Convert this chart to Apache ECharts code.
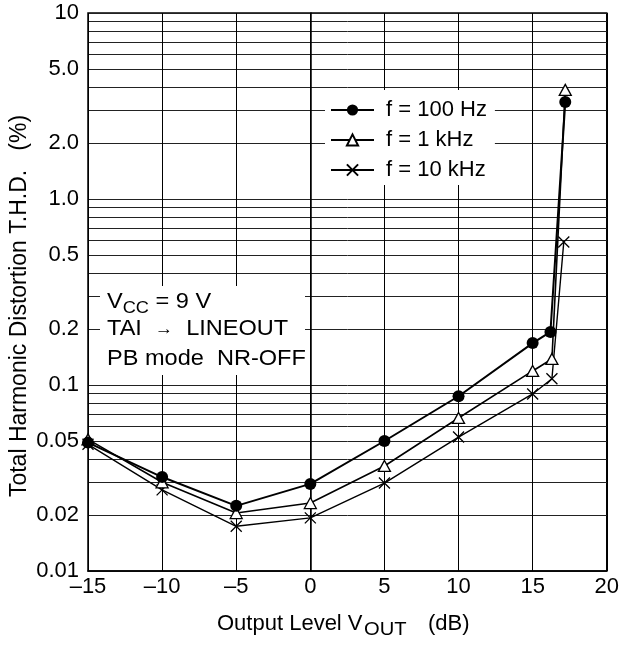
<!DOCTYPE html>
<html>
<head>
<meta charset="utf-8">
<script src="https://cdn.jsdelivr.net/npm/echarts@6/dist/echarts.min.js"></script>
<style>html,body{margin:0;padding:0;background:#fff}#c{width:622px;height:646px}</style>
</head>
<body>
<div id="c"></div>
<script>
// ---- data ----
const seriesNames = ['f = 100 Hz', 'f = 1 kHz', 'f = 10 kHz'];
const x100 = [-15, -10, -5, 0, 5, 10, 15, 16.2, 17.2];
const y100 = [0.049, 0.032, 0.0224, 0.0294, 0.050, 0.087, 0.168, 0.193, 3.32];
const x1k = [-15, -10, -5, 0, 5, 10, 15, 16.3, 17.2];
const y1k = [0.051, 0.030, 0.0205, 0.0232, 0.0367, 0.0665, 0.119, 0.138, 3.86];
const x10k = [-15, -10, -5, 0, 5, 10, 15, 16.3, 17.1];
const y10k = [0.048, 0.0273, 0.0174, 0.0193, 0.0297, 0.0525, 0.0895, 0.108, 0.587];
const xTicks = [-15, -10, -5, 0, 5, 10, 15, 20];
const yLabelValues = [0.01, 0.02, 0.05, 0.1, 0.2, 0.5, 1, 2, 5, 10];
const yLabelTexts = ['0.01', '0.02', '0.05', '0.1', '0.2', '0.5', '1.0', '2.0', '5.0', '10'];
const yGridValues = [0.01, 0.02, 0.03, 0.04, 0.05, 0.06, 0.07, 0.08, 0.09,
  0.1, 0.2, 0.3, 0.4, 0.5, 0.6, 0.7, 0.8, 0.9,
  1, 2, 3, 4, 5, 6, 7, 8, 9, 10];

const FONT = '"Liberation Sans", Arial, sans-serif';
const FS = 22;
const pair = (xs, ys) => xs.map((x, i) => [x, ys[i]]);

const chart = echarts.init(document.getElementById('c'), null, {renderer: 'canvas'});
chart.setOption({
  animation: false,
  backgroundColor: '#fff',
  grid: {left: 88, right: 15, top: 13, bottom: 75, show: true, borderColor: '#000', borderWidth: 1.5, backgroundColor: 'transparent'},
  xAxis: {
    type: 'value', min: -15, max: 20, interval: 5,
    axisLine: {show: true, lineStyle: {color: '#000', width: 1.5}},
    axisTick: {show: false},
    axisLabel: {color: '#000', fontFamily: FONT, fontSize: FS, margin: 5,
      formatter: v => String(v).replace('-', '\u2013')},
    splitLine: {show: true, lineStyle: {color: '#000', width: 1}}
  },
  yAxis: {
    type: 'log', logBase: 10, min: 0.01, max: 10,
    axisLine: {show: true, lineStyle: {color: '#000', width: 1.5}},
    axisTick: {show: false, customValues: yGridValues},
    axisLabel: {color: '#000', fontFamily: FONT, fontSize: FS, margin: 9,
      customValues: yLabelValues,
      formatter: v => {
        const i = yLabelValues.findIndex(t => Math.abs(t - v) / t < 1e-6);
        return i >= 0 ? yLabelTexts[i] : '';
      }},
    splitLine: {show: true, lineStyle: {color: '#222', width: 1}}
  },
  legend: {
    orient: 'vertical', left: 325, top: 90,
    padding: [9, 8, 4, 5], itemGap: 8,
    itemWidth: 43, itemHeight: 14,
    backgroundColor: '#fff',
    textStyle: {color: '#000', fontFamily: FONT, fontSize: FS, padding: [0, 0, 0, 7]},
    data: seriesNames
  },
  series: [
    {name: seriesNames[0], type: 'line', data: pair(x100, y100),
      symbol: 'circle', symbolSize: 12,
      lineStyle: {color: '#000', width: 2}, itemStyle: {color: '#000'}, z: 5},
    {name: seriesNames[1], type: 'line', data: pair(x1k, y1k),
      symbol: 'triangle', symbolSize: [12, 11],
      lineStyle: {color: '#000', width: 1.6}, itemStyle: {color: '#fff', borderColor: '#000', borderWidth: 1.3}, z: 4},
    {name: seriesNames[2], type: 'line', data: pair(x10k, y10k),
      symbol: 'path://M0,0L10,10M10,0L0,10', symbolSize: 11,
      lineStyle: {color: '#000', width: 1.4}, itemStyle: {color: '#000', borderColor: '#000', borderWidth: 1.3}, z: 3}
  ],
  graphic: [
    {type: 'rect', z: 10, shape: {x: 100, y: 286, width: 205, height: 89}, style: {fill: '#fff'}},
    {type: 'text', z: 11, x: 107, y: 302, scaleX: 1.07, style: {
      text: 'V{sub|CC} = 9 V', font: FS + 'px ' + FONT, fill: '#000', verticalAlign: 'middle',
      rich: {sub: {fontSize: 17, fontFamily: FONT, padding: [12, 0, 0, 0]}}}},
    {type: 'text', z: 11, x: 107, y: 329, scaleX: 1.07, style: {
      text: 'TAI  {a|\u2192}  LINEOUT', font: FS + 'px ' + FONT, fill: '#000', verticalAlign: 'middle',
      rich: {a: {fontSize: 17, fontFamily: FONT}}}},
    {type: 'text', z: 11, x: 107, y: 359, scaleX: 1.07, style: {
      text: 'PB mode  NR-OFF', font: FS + 'px ' + FONT, fill: '#000', verticalAlign: 'middle'}},
    {type: 'text', z: 11, x: 217, y: 624, style: {
      text: 'Output Level V', font: FS + 'px ' + FONT, fill: '#000', verticalAlign: 'middle'}},
    {type: 'text', z: 11, x: 364, y: 630, scaleX: 1.12, style: {
      text: 'OUT', font: '18px ' + FONT, fill: '#000', verticalAlign: 'middle'}},
    {type: 'text', z: 11, x: 428, y: 624, style: {
      text: '(dB)', font: FS + 'px ' + FONT, fill: '#000', verticalAlign: 'middle'}},
    {type: 'text', z: 11, x: 20, y: 306, rotation: Math.PI / 2, style: {
      text: 'Total Harmonic Distortion T.H.D.   (%)', font: '23px ' + FONT, fill: '#000',
      align: 'center', verticalAlign: 'middle'}}
  ]
});
</script>
</body>
</html>
